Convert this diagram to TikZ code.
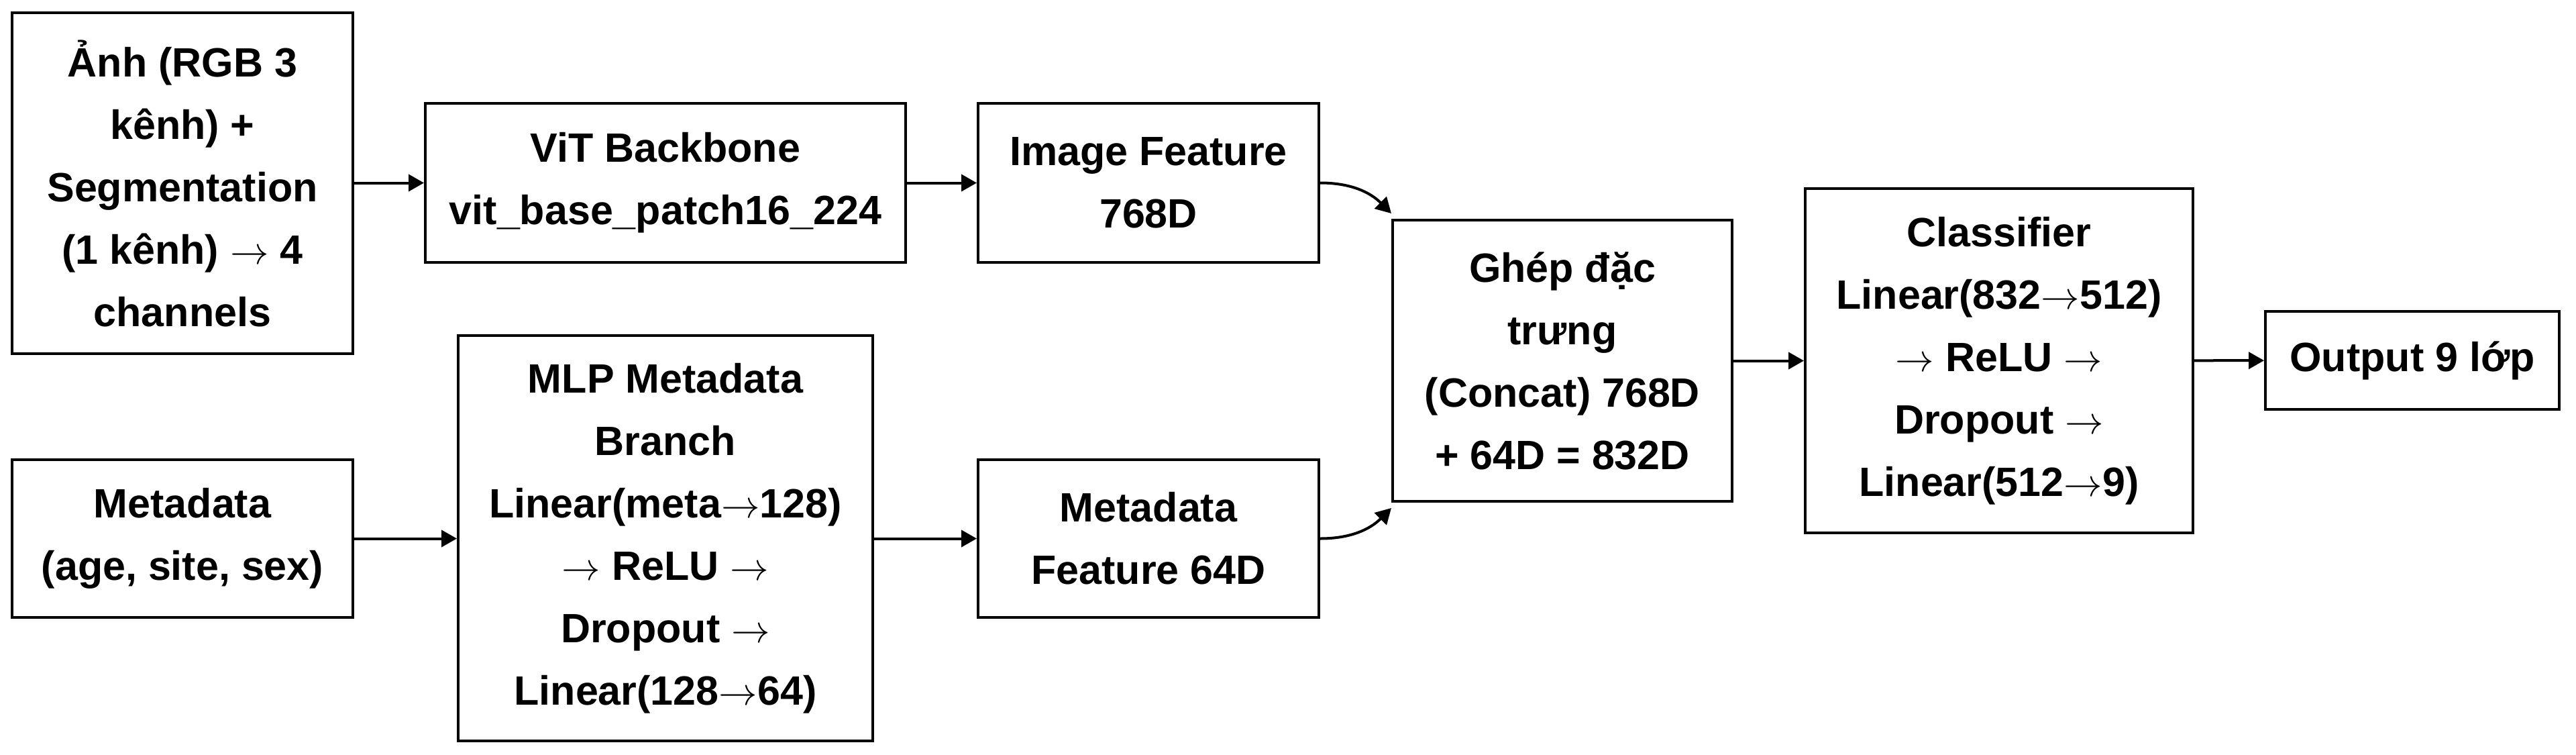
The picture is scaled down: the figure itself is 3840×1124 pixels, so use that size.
\documentclass[tikz,border=0pt]{standalone}
\usepackage{fontspec}
\setmainfont{Liberation Sans}
\usetikzlibrary{arrows.meta,shadows,positioning}
\newcommand{\ra}{\ensuremath{\rightarrow}}
\begin{document}
\begin{tikzpicture}[x=0.25pt,y=-0.25pt,
  box/.style={draw=black, line width=1pt, fill=white, inner sep=0pt, align=center,
    font=\fontsize{15.25pt}{23.25pt}\selectfont\bfseries,
    drop shadow={shadow xshift=0.6pt, shadow yshift=-0.6pt, fill=black, opacity=0.18}},
  arr/.style={line width=1pt, -{Triangle[length=5.75pt,width=6.25pt]}}]
\useasboundingbox (0,0) rectangle (3840,1124);
\node[box, minimum width=127pt, minimum height=127pt] (img) at (272,273)
  {Ảnh (RGB 3\\kênh) +\\Segmentation\\(1 kênh) \ra{} 4\\channels};
\node[box, minimum width=179pt, minimum height=59.25pt] (vit) at (992,272.5)
  {ViT Backbone\\vit\_base\_patch16\_224};
\node[box, minimum width=127pt, minimum height=59.25pt] (imgf) at (1712,272.5)
  {Image Feature\\768D};
\node[box, minimum width=127pt, minimum height=58.75pt] (meta) at (272,802.5)
  {Metadata\\(age, site, sex)};
\node[box, minimum width=154.5pt, minimum height=151pt] (mlp) at (992,802)
  {MLP Metadata\\Branch\\Linear(meta\ra128)\\\ra{} ReLU \ra\\Dropout \ra\\Linear(128\ra64)};
\node[box, minimum width=127pt, minimum height=58.75pt] (metaf) at (1712,802.5)
  {Metadata\\Feature 64D};
\node[box, minimum width=126.5pt, minimum height=104.75pt] (cat) at (2329,537.5)
  {Ghép đặc\\trưng\\(Concat) 768D\\+ 64D = 832D};
\node[box, minimum width=144.5pt, minimum height=128.25pt] (cls) at (2980,537.5)
  {Classifier\\Linear(832\ra512)\\\ra{} ReLU \ra\\Dropout \ra\\Linear(512\ra9)};
\node[box, minimum width=109.5pt, minimum height=36.5pt] (out) at (3596,537)
  {Output 9 lớp};
\coordinate (catin1) at ([yshift=2pt]cat.north west);
\coordinate (catin2) at ([yshift=-2pt]cat.south west);
\draw[arr] (img.east |- vit.west) -- (vit.west);
\draw[arr] (vit) -- (imgf);
\draw[arr] (meta) -- (mlp.west |- meta.east);
\draw[arr] (mlp.east |- metaf.west) -- (metaf.west);
\draw[arr] (imgf.east) to[out=0,in=135] (catin1);
\draw[arr] (metaf.east) to[out=0,in=225] (catin2);
\draw[arr] (cat) -- (cls);
\draw[arr] (cls) -- (out);
\end{tikzpicture}
\end{document}
